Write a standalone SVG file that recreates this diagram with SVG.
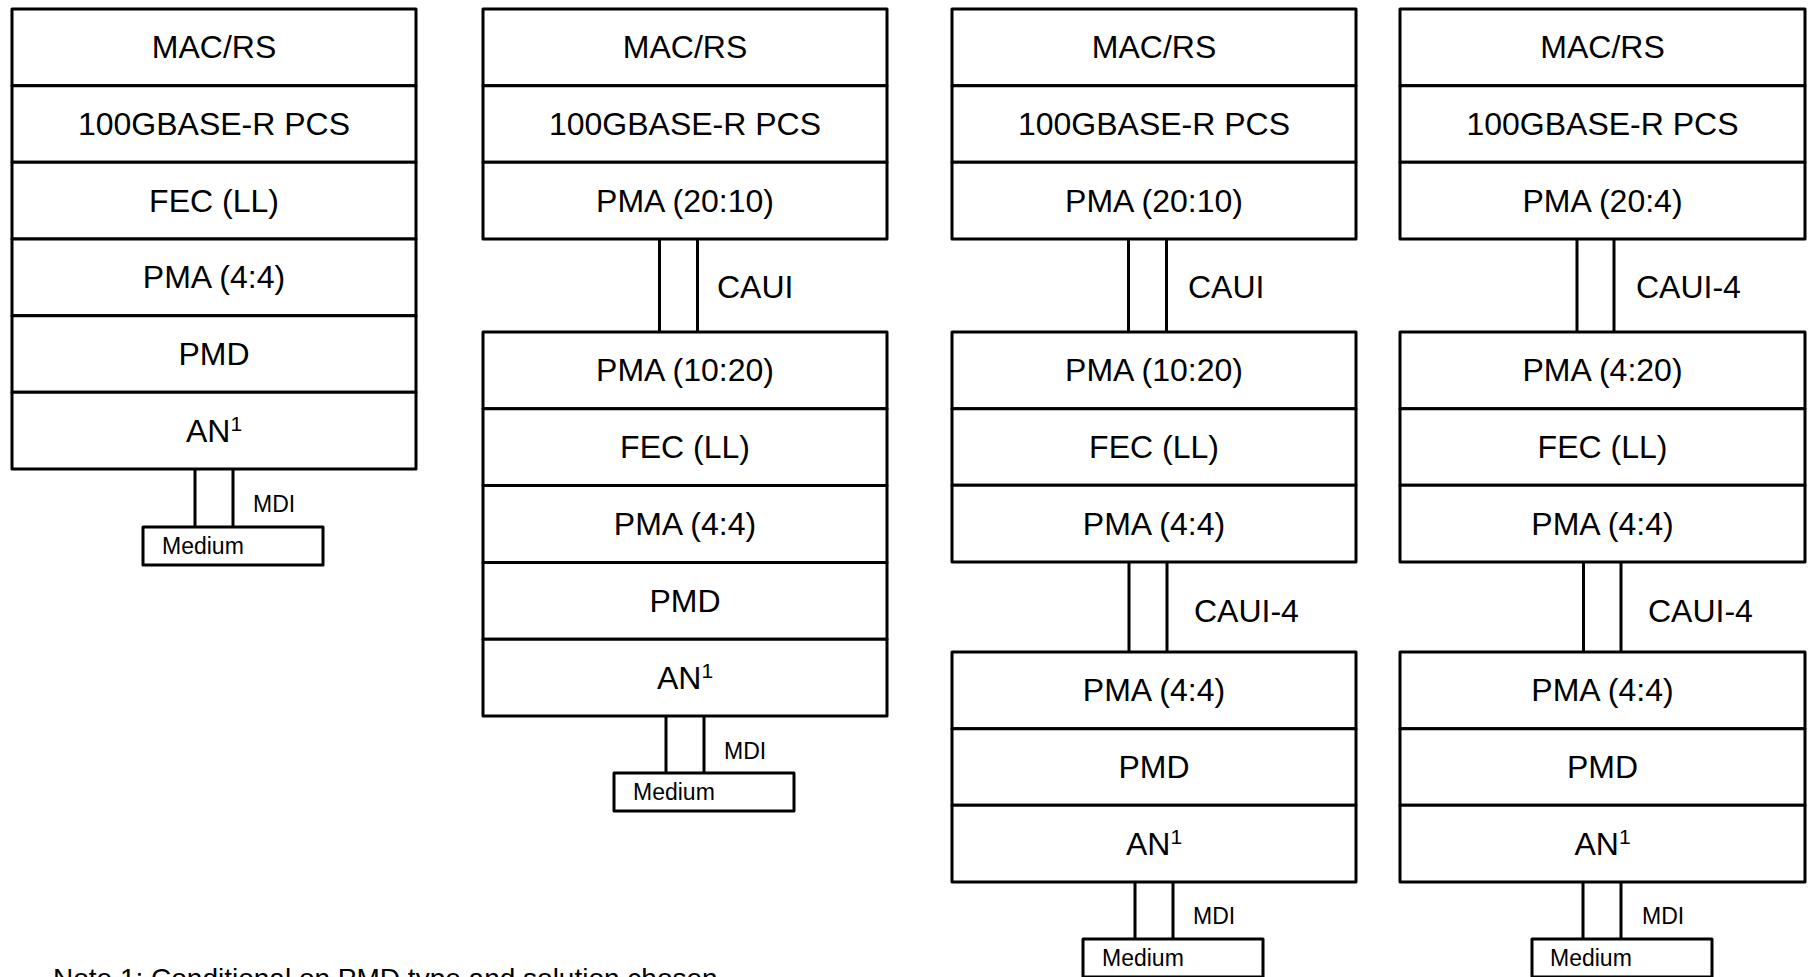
<svg xmlns="http://www.w3.org/2000/svg" width="1808" height="977" viewBox="0 0 1808 977">
<style>
.layer{fill:#fff;stroke:#000;stroke-width:3;stroke-linejoin:round}
.lbl{font-family:"Liberation Sans",Arial,sans-serif;font-size:32px;text-anchor:middle;fill:#000}
.ifc{font-family:"Liberation Sans",Arial,sans-serif;font-size:32px;fill:#000}
.sm{font-family:"Liberation Sans",Arial,sans-serif;font-size:23px;fill:#000}
.note{font-family:"Liberation Sans",Arial,sans-serif;font-size:28px;fill:#000}
.sup{font-size:21px}
.wire{stroke:#000;stroke-width:3;fill:none}
</style>
<rect x="0" y="0" width="1808" height="977" fill="#fff"/>

<!-- Column 1 -->
<g id="stack1">
<rect class="layer" x="12" y="9" width="404" height="76.67"/>
<rect class="layer" x="12" y="85.67" width="404" height="76.67"/>
<rect class="layer" x="12" y="162.33" width="404" height="76.67"/>
<rect class="layer" x="12" y="239" width="404" height="76.67"/>
<rect class="layer" x="12" y="315.67" width="404" height="76.67"/>
<rect class="layer" x="12" y="392.33" width="404" height="76.67"/>
<text class="lbl" x="214" y="58">MAC/RS</text>
<text class="lbl" x="214" y="135">100GBASE-R PCS</text>
<text class="lbl" x="214" y="212">FEC (LL)</text>
<text class="lbl" x="214" y="288">PMA (4:4)</text>
<text class="lbl" x="214" y="365">PMD</text>
<text class="lbl" x="214" y="442">AN<tspan class="sup" dy="-11">1</tspan></text>
</g>
<g id="medium1">
<rect class="layer" x="143" y="527" width="180" height="38"/>
<text class="sm" x="162" y="554">Medium</text>
</g>

<!-- Column 2 -->
<g id="stack2a">
<rect class="layer" x="483" y="9" width="404" height="76.67"/>
<rect class="layer" x="483" y="85.67" width="404" height="76.67"/>
<rect class="layer" x="483" y="162.33" width="404" height="76.67"/>
<text class="lbl" x="685" y="58">MAC/RS</text>
<text class="lbl" x="685" y="135">100GBASE-R PCS</text>
<text class="lbl" x="685" y="212">PMA (20:10)</text>
</g>
<g id="stack2b">
<rect class="layer" x="483" y="332" width="404" height="76.8"/>
<rect class="layer" x="483" y="408.8" width="404" height="76.8"/>
<rect class="layer" x="483" y="485.6" width="404" height="76.8"/>
<rect class="layer" x="483" y="562.4" width="404" height="76.8"/>
<rect class="layer" x="483" y="639.2" width="404" height="76.8"/>
<text class="lbl" x="685" y="381">PMA (10:20)</text>
<text class="lbl" x="685" y="458">FEC (LL)</text>
<text class="lbl" x="685" y="535">PMA (4:4)</text>
<text class="lbl" x="685" y="612">PMD</text>
<text class="lbl" x="685" y="689">AN<tspan class="sup" dy="-11">1</tspan></text>
</g>
<g id="medium2">
<rect class="layer" x="614" y="773" width="180" height="38"/>
<text class="sm" x="633" y="800">Medium</text>
</g>

<!-- Column 3 -->
<g id="stack3a">
<rect class="layer" x="952" y="9" width="404" height="76.67"/>
<rect class="layer" x="952" y="85.67" width="404" height="76.67"/>
<rect class="layer" x="952" y="162.33" width="404" height="76.67"/>
<text class="lbl" x="1154" y="58">MAC/RS</text>
<text class="lbl" x="1154" y="135">100GBASE-R PCS</text>
<text class="lbl" x="1154" y="212">PMA (20:10)</text>
</g>
<g id="stack3b">
<rect class="layer" x="952" y="332" width="404" height="76.67"/>
<rect class="layer" x="952" y="408.67" width="404" height="76.67"/>
<rect class="layer" x="952" y="485.33" width="404" height="76.67"/>
<text class="lbl" x="1154" y="381">PMA (10:20)</text>
<text class="lbl" x="1154" y="458">FEC (LL)</text>
<text class="lbl" x="1154" y="535">PMA (4:4)</text>
</g>
<g id="stack3c">
<rect class="layer" x="952" y="652" width="404" height="76.67"/>
<rect class="layer" x="952" y="728.67" width="404" height="76.67"/>
<rect class="layer" x="952" y="805.33" width="404" height="76.67"/>
<text class="lbl" x="1154" y="701">PMA (4:4)</text>
<text class="lbl" x="1154" y="778">PMD</text>
<text class="lbl" x="1154" y="855">AN<tspan class="sup" dy="-11">1</tspan></text>
</g>
<g id="medium3">
<rect class="layer" x="1083" y="939" width="180" height="38"/>
<text class="sm" x="1102" y="966">Medium</text>
</g>

<!-- Column 4 -->
<g id="stack4a">
<rect class="layer" x="1400" y="9" width="405" height="76.67"/>
<rect class="layer" x="1400" y="85.67" width="405" height="76.67"/>
<rect class="layer" x="1400" y="162.33" width="405" height="76.67"/>
<text class="lbl" x="1602.5" y="58">MAC/RS</text>
<text class="lbl" x="1602.5" y="135">100GBASE-R PCS</text>
<text class="lbl" x="1602.5" y="212">PMA (20:4)</text>
</g>
<g id="stack4b">
<rect class="layer" x="1400" y="332" width="405" height="76.67"/>
<rect class="layer" x="1400" y="408.67" width="405" height="76.67"/>
<rect class="layer" x="1400" y="485.33" width="405" height="76.67"/>
<text class="lbl" x="1602.5" y="381">PMA (4:20)</text>
<text class="lbl" x="1602.5" y="458">FEC (LL)</text>
<text class="lbl" x="1602.5" y="535">PMA (4:4)</text>
</g>
<g id="stack4c">
<rect class="layer" x="1400" y="652" width="405" height="76.67"/>
<rect class="layer" x="1400" y="728.67" width="405" height="76.67"/>
<rect class="layer" x="1400" y="805.33" width="405" height="76.67"/>
<text class="lbl" x="1602.5" y="701">PMA (4:4)</text>
<text class="lbl" x="1602.5" y="778">PMD</text>
<text class="lbl" x="1602.5" y="855">AN<tspan class="sup" dy="-11">1</tspan></text>
</g>
<g id="medium4">
<rect class="layer" x="1532" y="939" width="180" height="38"/>
<text class="sm" x="1550" y="966">Medium</text>
</g>

<!-- Connectors -->
<g id="connectors">
<path class="wire" d="M195,469V527M233,469V527"/>
<text class="sm" x="253" y="512">MDI</text>
<path class="wire" d="M659.5,239V332M697.5,239V332"/>
<text class="ifc" x="717" y="298">CAUI</text>
<path class="wire" d="M666,716V773M704,716V773"/>
<text class="sm" x="724" y="759">MDI</text>
<path class="wire" d="M1128.5,239V332M1166.5,239V332"/>
<text class="ifc" x="1188" y="298">CAUI</text>
<path class="wire" d="M1129,562V652M1167,562V652"/>
<text class="ifc" x="1194" y="622">CAUI-4</text>
<path class="wire" d="M1135,882V939M1173,882V939"/>
<text class="sm" x="1193" y="924">MDI</text>
<path class="wire" d="M1577,239V332M1614,239V332"/>
<text class="ifc" x="1636" y="298">CAUI-4</text>
<path class="wire" d="M1583.5,562V652M1621,562V652"/>
<text class="ifc" x="1648" y="622">CAUI-4</text>
<path class="wire" d="M1583,882V939M1621,882V939"/>
<text class="sm" x="1642" y="924">MDI</text>
</g>

<text class="note" x="53" y="988">Note 1: Conditional on PMD type and solution chosen</text>
</svg>
